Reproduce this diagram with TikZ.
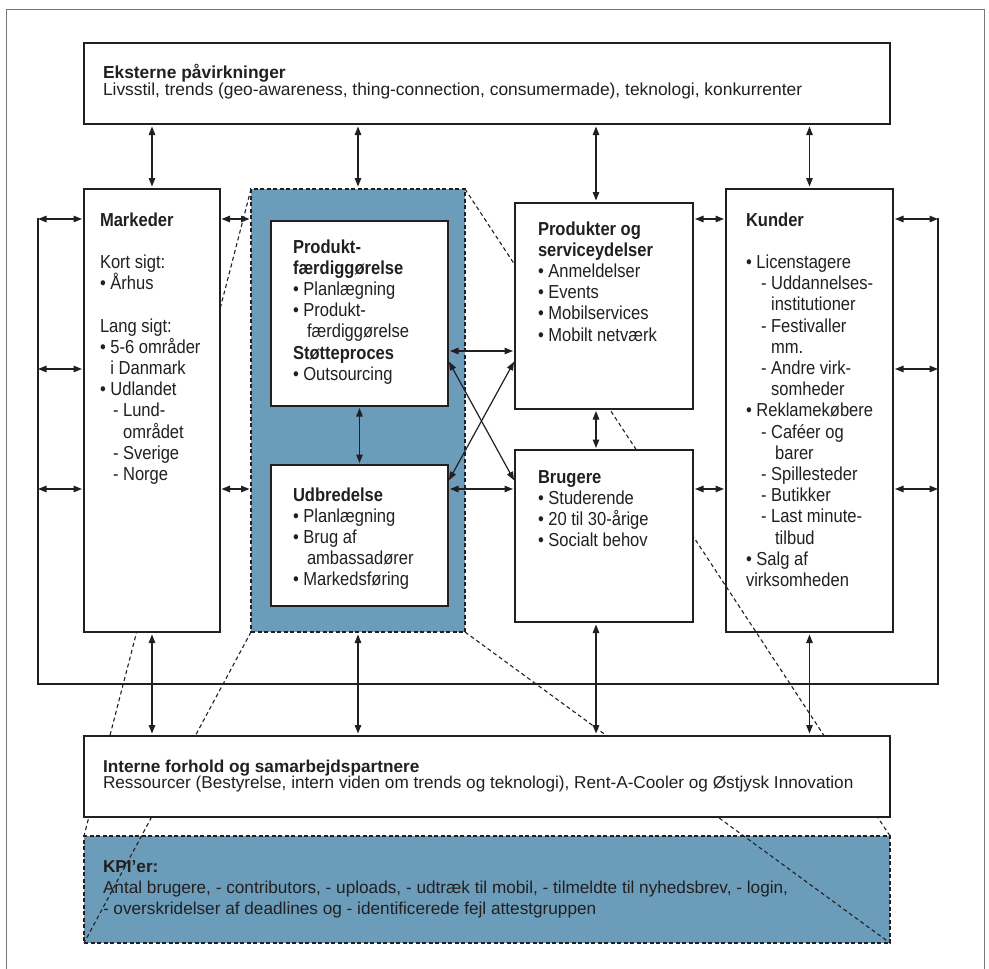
\documentclass[tikz,border=0pt]{standalone}
\usepackage{fontspec}
\setmainfont{Liberation Sans}
\newfontfamily\boxfont{Liberation Sans}[FakeStretch=0.88]
\usetikzlibrary{arrows.meta}
\definecolor{ink}{RGB}{35,31,32}
\definecolor{kpiblue}{RGB}{107,157,187}
\definecolor{framegray}{RGB}{120,120,120}
\tikzset{
  wbox/.style={draw=ink, line width=1.4pt, fill=white, inner sep=0pt, outer sep=0pt, anchor=north west},
  bbox/.style={draw=ink, line width=1.2pt, dash pattern=on 4pt off 2.5pt, fill=kpiblue, inner sep=0pt, outer sep=0pt, anchor=north west},
  txt/.style={anchor=base west, inner sep=0pt, outer sep=0pt, text=ink},
  dbl/.style={draw=ink, line width=1.2pt, {Triangle[length=8.5pt,width=6.5pt]}-{Triangle[length=8.5pt,width=6.5pt]}, shorten <=2pt, shorten >=2pt},
  zoomline/.style={draw=ink, line width=1.1pt, dash pattern=on 4pt off 3pt},
  brk/.style={draw=ink, line width=1.4pt},
  frameline/.style={draw=framegray, line width=1pt},
}
\newcommand{\bxt}[1]{\parbox[t]{200pt}{\boxfont\fontsize{18.8}{21.2}\selectfont\raggedright #1}}
\newcommand{\bul}{•\ }
\newcommand{\bulph}{\hphantom{•\ }}
\begin{document}
\begin{tikzpicture}[x=1pt,y=-1pt]
\useasboundingbox (0,0) rectangle (989,969);
% outer frame
\coordinate (f1) at (6,969); \coordinate (f2) at (6,9); \coordinate (f3) at (984,9); \coordinate (f4) at (984,969);
\draw[frameline] (f1) -- (f2) -- (f3) -- (f4);
% feedback bracket
\coordinate (bkl) at (38,218); \coordinate (bkbl) at (38,684);
\coordinate (bkbr) at (938,684); \coordinate (bkr) at (938,218);
\draw[brk] (bkl) -- (bkbl) -- (bkbr) -- (bkr);
% blue areas
\node[bbox, minimum width=806pt, minimum height=107pt] (kpi) at (84,836) {};
\node[bbox, minimum width=214pt, minimum height=443pt] (blue) at (251,189) {};
\node[wbox, minimum width=167pt, minimum height=443pt] (kunder) at (726,189) {};
% zoom lines
\draw[zoomline] (blue.north west) -- (kpi.north west);
\draw[zoomline] (blue.south west) -- (kpi.south west);
\draw[zoomline] (blue.north east) -- (kpi.north east);
\draw[zoomline] (blue.south east) -- (kpi.south east);
% white boxes
\node[wbox, minimum width=806pt, minimum height=81pt] (top) at (84,43) {};
\node[wbox, minimum width=136pt, minimum height=443pt] (markeder) at (84,189) {};
\node[wbox, minimum width=178pt, minimum height=206pt] (produkter) at (515,203) {};
\node[wbox, minimum width=178pt, minimum height=172pt] (brugere) at (515,450) {};
\node[wbox, minimum width=806pt, minimum height=81pt] (interne) at (84,736) {};
\node[wbox, minimum width=177pt, minimum height=185pt] (prod) at (271,221) {};
\node[wbox, minimum width=177pt, minimum height=141pt] (udbr) at (271,465) {};
% texts
\node[txt] (ttop) at (103,78) {\parbox[t]{780pt}{\fontsize{17.4}{15.5}\selectfont\textbf{Eksterne påvirkninger}\\Livsstil, trends (geo-awareness, thing-connection, consumermade), teknologi, konkurrenter}};
\node[txt] (tmark) at (100,226) {\bxt{\textbf{Markeder}\\[21.2pt]Kort sigt:\\\bul Århus\\[21.2pt]Lang sigt:\\\bul 5-6 områder\\\bulph i Danmark\\\bul Udlandet\\\hspace*{13pt}- Lund-\\\hspace*{13pt}\hphantom{- }området\\\hspace*{13pt}- Sverige\\\hspace*{13pt}- Norge}};
\node[txt] (tprod) at (293,253) {\bxt{\textbf{Produkt-}\\\textbf{færdiggørelse}\\\bul Planlægning\\\bul Produkt-\\\hspace*{14pt}færdiggørelse\\\textbf{Støtteproces}\\\bul Outsourcing}};
\node[txt] (tudbr) at (293,501) {\bxt{\textbf{Udbredelse}\\\bul Planlægning\\\bul Brug af\\\hspace*{14pt}ambassadører\\\bul Markedsføring}};
\node[txt] (tprodukter) at (538,235) {\bxt{\textbf{Produkter og}\\\textbf{serviceydelser}\\\bul Anmeldelser\\\bul Events\\\bul Mobilservices\\\bul Mobilt netværk}};
\node[txt] (tbrugere) at (538,483) {\bxt{\textbf{Brugere}\\\bul Studerende\\\bul 20 til 30-årige\\\bul Socialt behov}};
\node[txt] (tkunder) at (746,226) {\bxt{\textbf{Kunder}\\[21.2pt]\bul Licenstagere\\
\hspace*{15pt}- Uddannelses-\\
\hspace*{15pt}\hphantom{- }institutioner\\
\hspace*{15pt}- Festivaller\\
\hspace*{15pt}\hphantom{- }mm.\\
\hspace*{15pt}- Andre virk-\\
\hspace*{15pt}\hphantom{- }somheder\\
\bul Reklamekøbere\\
\hspace*{15pt}- Caféer og\\
\hspace*{19pt}\hphantom{- }barer\\
\hspace*{15pt}- Spillesteder\\
\hspace*{15pt}- Butikker\\
\hspace*{15pt}- Last minute-\\
\hspace*{19pt}\hphantom{- }tilbud\\
\bul Salg af\\
virksomheden}};
\node[txt] (tinterne) at (103,772) {\parbox[t]{780pt}{\fontsize{17.2}{16.5}\selectfont\textbf{Interne forhold og samarbejdspartnere}\\Ressourcer (Bestyrelse, intern viden om trends og teknologi), Rent-A-Cooler og Østjysk Innovation}};
\node[txt] (tkpi) at (103,872) {\parbox[t]{780pt}{\fontsize{17.2}{21}\selectfont\textbf{KPI’er:}\\Antal brugere, - contributors, - uploads, - udtræk til mobil, - tilmeldte til nyhedsbrev, - login,\\- overskridelser af deadlines og - identificerede fejl attestgruppen}};
% helper coordinates
\coordinate (yA) at (0,219); \coordinate (yB) at (0,369); \coordinate (yC) at (0,489);
\coordinate (yD) at (0,351); \coordinate (yE) at (0,360); \coordinate (yF) at (0,482);
\coordinate (xP) at (596,0);
% arrows to bracket
\draw[dbl, shorten <=0pt] (bkl |- yA) -- (markeder.west |- yA);
\draw[dbl, shorten <=0pt] (bkl |- yB) -- (markeder.west |- yB);
\draw[dbl, shorten <=0pt] (bkl |- yC) -- (markeder.west |- yC);
\draw[dbl, shorten >=0pt] (kunder.east |- yA) -- (bkr |- yA);
\draw[dbl, shorten >=0pt] (kunder.east |- yB) -- (bkr |- yB);
\draw[dbl, shorten >=0pt] (kunder.east |- yC) -- (bkr |- yC);
% horizontal arrows between boxes
\draw[dbl, shorten <=1.5pt, shorten >=1.5pt] (markeder.east |- yA) -- (blue.west |- yA);
\draw[dbl, shorten <=1.5pt, shorten >=1.5pt] (markeder.east |- yC) -- (blue.west |- yC);
\draw[dbl] (produkter.east |- yA) -- (kunder.west |- yA);
\draw[dbl] (brugere.east |- yC) -- (kunder.west |- yC);
\draw[dbl] (prod.east |- yD) -- (produkter.west |- yD);
\draw[dbl] (udbr.east |- yC) -- (brugere.west |- yC);
\draw[dbl] (prod.east |- yE) -- (brugere.west |- yF);
\draw[dbl] (udbr.east |- yF) -- (produkter.west |- yE);
% vertical arrows
\draw[dbl, shorten <=2.5pt, shorten >=2.5pt] (top.south -| markeder.north) -- (markeder.north);
\draw[dbl, shorten <=2.5pt, shorten >=2.5pt] (top.south -| blue.north) -- (blue.north);
\draw[dbl, shorten <=2.5pt, shorten >=2.5pt] (top.south -| xP) -- (produkter.north -| xP);
\draw[dbl, shorten <=2.5pt, shorten >=2.5pt] (top.south -| kunder.north) -- (kunder.north);
\draw[dbl] (prod.south) -- (udbr.north);
\draw[dbl] (produkter.south -| xP) -- (brugere.north -| xP);
\draw[dbl, shorten <=2.5pt, shorten >=2.5pt] (markeder.south) -- (interne.north -| markeder.south);
\draw[dbl, shorten <=2.5pt, shorten >=2.5pt] (blue.south) -- (interne.north -| blue.south);
\draw[dbl, shorten <=2.5pt, shorten >=2.5pt] (brugere.south -| xP) -- (interne.north -| xP);
\draw[dbl, shorten <=2.5pt, shorten >=2.5pt] (kunder.south) -- (interne.north -| kunder.south);
\end{tikzpicture}
\end{document}
